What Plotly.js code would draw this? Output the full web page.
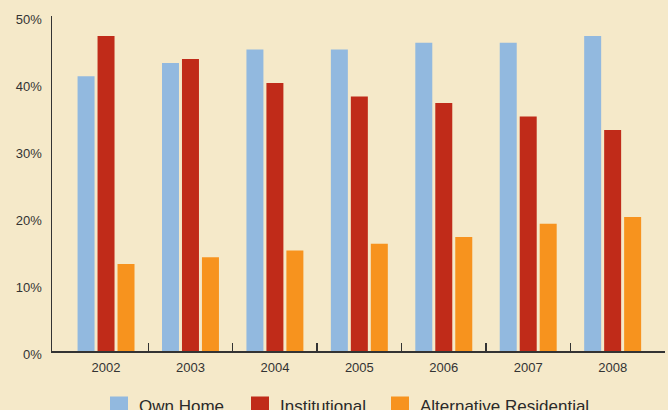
<!DOCTYPE html>
<html>
<head>
<meta charset="utf-8">
<script src="https://cdn.plot.ly/plotly-3.0.1.min.js"></script>
<style>
html,body{margin:0;padding:0;background:#f5e9c9;}
#chart{width:668px;height:410px;}
</style>
</head>
<body>
<div id="chart"></div>
<script>
var years = ["2002","2003","2004","2005","2006","2007","2008"];
var ownHome = [41, 43, 45, 45, 46, 46, 47];
var institutional = [47, 43.6, 40, 38, 37, 35, 33];
var alternativeResidential = [13, 14, 15, 16, 17, 19, 20];
var seriesNames = ["Own Home", "Institutional", "Alternative Residential"];
var seriesColors = ["#92b9df", "#c02b19", "#f7931e"];
var seriesLegends = ["legend", "legend", "legend2"];
var yTickVals = [0, 10, 20, 30, 40, 50];
var yTickText = ["0%", "10%", "20%", "30%", "40%", "50%"];
var boundaryTicks = [0.5, 1.5, 2.5, 3.5, 4.5, 5.5];

var seriesData = [ownHome, institutional, alternativeResidential];
var traces = [];
seriesData.forEach(function (vals, i) {
  traces.push({
    type: "bar", x: years, y: vals, name: seriesNames[i],
    marker: {color: seriesColors[i]}, showlegend: false, hoverinfo: "x+y"
  });
});
seriesData.forEach(function (vals, i) {
  traces.push({
    type: "scatter", mode: "markers", x: [null], y: [null], name: seriesNames[i],
    legend: seriesLegends[i],
    marker: {symbol: "square", size: 16, color: seriesColors[i], line: {width: 2, color: seriesColors[i]}},
    showlegend: true, hoverinfo: "skip"
  });
});
traces.push({type: "scatter", mode: "markers", x: [null], y: [null], xaxis: "x2", showlegend: false, hoverinfo: "skip"});

var legendFont = {size: 17, color: "#2a2a2a"};
var layout = {
  width: 668, height: 410,
  paper_bgcolor: "#f5e9c9", plot_bgcolor: "#f5e9c9",
  margin: {l: 52, r: 3, t: 16, b: 59},
  font: {family: "Liberation Sans, Arial, sans-serif", color: "#333333", size: 13},
  barmode: "group", bargap: 0.29, bargroupgap: 0.15,
  xaxis: {
    type: "category", range: [-0.64, 6.62],
    showline: true, linecolor: "#333333", linewidth: 1.5,
    ticks: "", showgrid: false, zeroline: false,
    tickfont: {size: 13, color: "#333333"}, ticklabelstandoff: 4
  },
  xaxis2: {
    overlaying: "x", anchor: "y", type: "linear", range: [-0.64, 6.62],
    tickmode: "array", tickvals: boundaryTicks, ticks: "inside", ticklen: 8,
    tickwidth: 1.3, tickcolor: "#333333",
    showticklabels: false, showline: false, showgrid: false, zeroline: false
  },
  yaxis: {
    range: [0, 50], showline: true, linecolor: "#333333", linewidth: 1.5,
    showgrid: false, zeroline: false, ticks: "",
    tickmode: "array", tickvals: yTickVals, ticktext: yTickText,
    tickfont: {size: 13, color: "#333333"}, ticklabelstandoff: 6, ticklabelshift: 3
  },
  showlegend: true,
  legend: {
    orientation: "h", xref: "container", yref: "container",
    x: 99 / 668, y: 1 - 388 / 410, xanchor: "left", yanchor: "top",
    font: legendFont, bgcolor: "rgba(0,0,0,0)", borderwidth: 0,
    entrywidth: 96, entrywidthmode: "pixels"
  },
  legend2: {
    orientation: "h", xref: "container", yref: "container",
    x: 380 / 668, y: 1 - 388 / 410, xanchor: "left", yanchor: "top",
    font: legendFont, bgcolor: "rgba(0,0,0,0)", borderwidth: 0
  }
};

Plotly.newPlot("chart", traces, layout, {displayModeBar: false, staticPlot: true});
</script>
</body>
</html>
